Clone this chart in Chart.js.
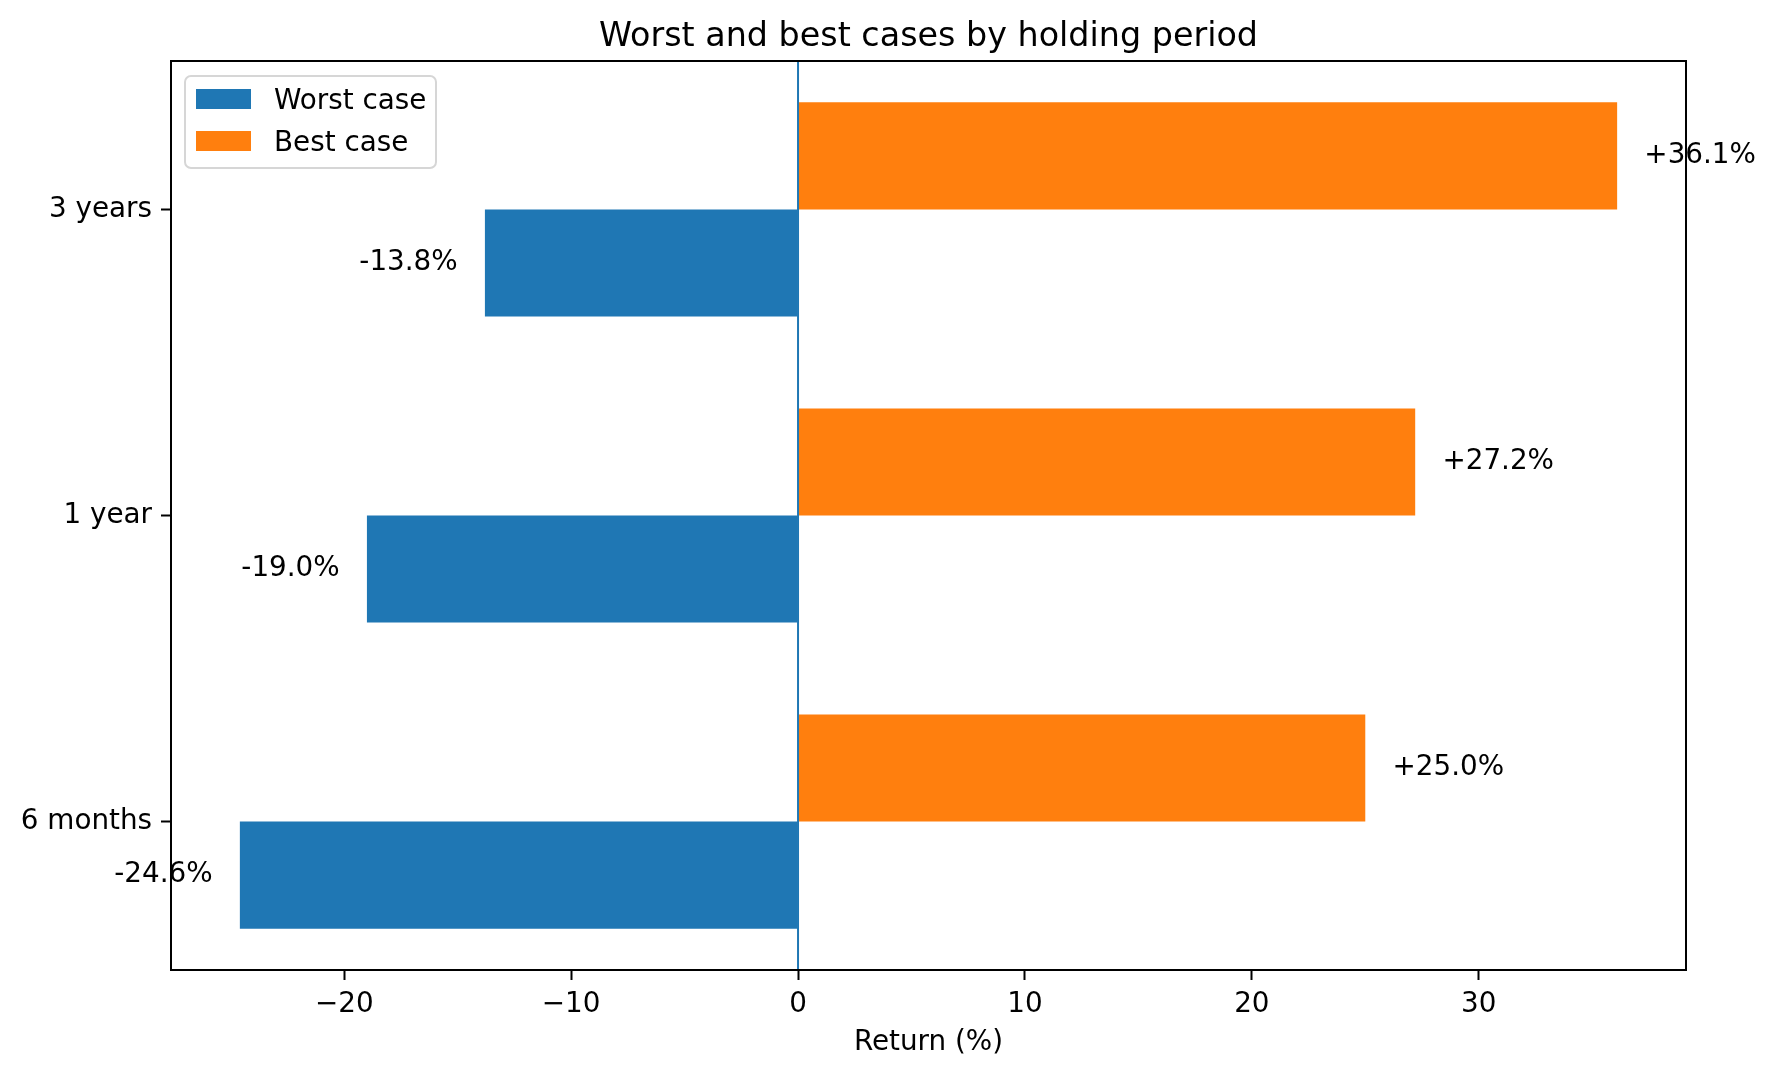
<!DOCTYPE html>
<html>
<head>
<meta charset="utf-8">
<script src="https://cdn.jsdelivr.net/npm/chart.js@4/dist/chart.umd.min.js"></script>
<style>
  html, body { margin: 0; padding: 0; background: #fff; }
  canvas { display: block; }
</style>
</head>
<body>
<canvas id="grafico" width="1777" height="1077"></canvas>
<script>
// dados (de baixo para cima no eixo y)
const periodos = ['6 months', '1 year', '3 years']
const pior = [-24.6, -19.0, -13.8]
const melhor = [25.0, 27.2, 36.1]
const legendas = ['Worst case', 'Best case']

const azul = '#1f77b4'
const laranja = '#ff7f0e'
const fonte = 'DejaVu Sans, Liberation Sans, sans-serif'
const tam = 27.8

// limites como o matplotlib (margem de 5%)
const lo = Math.min(...pior), hi = Math.max(...melhor)
const margem = 0.05 * (hi - lo)
const yMin = -0.35 - 0.05 * (periodos.length - 1 + 0.7)
const yMax = periodos.length - 1 + 0.35 + 0.05 * (periodos.length - 1 + 0.7)

function menos(v) {
    return v < 0 ? '\u2212' + Math.abs(v) : '' + v
}

const extras = {
    id: 'extras',
    afterDatasetsDraw(chart) {
        const ctx = chart.ctx
        const x = chart.scales.x
        const a = chart.chartArea
        // linha vertical no zero
        ctx.save()
        ctx.strokeStyle = azul
        ctx.lineWidth = 2
        ctx.beginPath()
        ctx.moveTo(x.getPixelForValue(0), a.top)
        ctx.lineTo(x.getPixelForValue(0), a.bottom)
        ctx.stroke()
        ctx.restore()
    },
    afterDraw(chart) {
        const ctx = chart.ctx
        const x = chart.scales.x
        const a = chart.chartArea
        ctx.save()
        // moldura
        ctx.strokeStyle = '#000'
        ctx.lineWidth = 2
        ctx.strokeRect(a.left, a.top, a.right - a.left, a.bottom - a.top)

        // rótulos das barras
        ctx.fillStyle = '#000'
        ctx.font = tam + 'px ' + fonte
        ctx.textBaseline = 'middle'
        chart.data.datasets.forEach((ds, d) => {
            const meta = chart.getDatasetMeta(d)
            ds.data.forEach((p, i) => {
                const y = meta.data[i].y
                if (p.x < 0) {
                    ctx.textAlign = 'right'
                    ctx.fillText(p.x.toFixed(1) + '%', x.getPixelForValue(p.x - 1.2), y)
                } else {
                    ctx.textAlign = 'left'
                    ctx.fillText('+' + p.x.toFixed(1) + '%', x.getPixelForValue(p.x + 1.2), y)
                }
            })
        })

        // título
        ctx.textAlign = 'center'
        ctx.textBaseline = 'alphabetic'
        ctx.font = (tam * 1.2) + 'px ' + fonte
        ctx.fillText('Worst and best cases by holding period', (a.left + a.right) / 2, 45.5)

        // legenda
        const lx = a.left + 14, ly = a.top + 15, lw = 251, lh = 92
        ctx.beginPath()
        ctx.roundRect(lx, ly, lw, lh, 6)
        ctx.fillStyle = 'rgba(255,255,255,0.8)'
        ctx.fill()
        ctx.strokeStyle = '#d6d6d6'
        ctx.lineWidth = 2
        ctx.stroke()
        const cores = [azul, laranja]
        ctx.font = tam + 'px ' + fonte
        ctx.textAlign = 'left'
        legendas.forEach((t, i) => {
            const cy = ly + 23 + i * 42
            ctx.fillStyle = cores[i]
            ctx.fillRect(lx + 11, cy - 10, 55, 20)
            ctx.fillStyle = '#000'
            ctx.fillText(t, lx + 89, cy + 10)
        })
        ctx.restore()
    }
}

const config = {
    type: 'bar',
    data: {
        datasets: [
            {
                label: legendas[1],
                data: melhor.map((v, i) => ({x: v, y: i})),
                backgroundColor: laranja,
                borderWidth: 0
            },
            {
                label: legendas[0],
                data: pior.map((v, i) => ({x: v, y: i})),
                backgroundColor: azul,
                borderWidth: 0
            }
        ]
    },
    options: {
        indexAxis: 'y',
        responsive: false,
        devicePixelRatio: 1,
        animation: false,
        categoryPercentage: 0.7,
        barPercentage: 1.0,
        layout: { padding: { left: 0, top: 61, right: 91, bottom: 0 } },
        plugins: {
            legend: { display: false },
            tooltip: { enabled: false },
            title: { display: false }
        },
        scales: {
            x: {
                type: 'linear',
                min: lo - margem,
                max: hi + margem,
                afterFit: s => { s.height = 107 },
                afterBuildTicks: s => {
                    const t = []
                    for (let v = Math.ceil(s.min / 10) * 10; v <= s.max; v += 10) t.push({value: v})
                    s.ticks = t
                },
                grid: { drawOnChartArea: false, drawTicks: true, offset: false, tickLength: 10, tickWidth: 2, tickColor: '#000' },
                border: { display: true, color: '#000', width: 2 },
                ticks: {
                    padding: 8,
                    color: '#000',
                    font: { family: fonte, size: tam },
                    callback: v => menos(v)
                },
                title: {
                    display: true,
                    text: 'Return (%)',
                    color: '#000',
                    font: { family: fonte, size: tam },
                    padding: { top: 0, bottom: 18 }
                }
            },
            y: {
                type: 'linear',
                offset: false,
                min: yMin,
                max: yMax,
                afterFit: s => { s.width = 171 },
                afterBuildTicks: s => { s.ticks = periodos.map((p, i) => ({value: i})) },
                grid: { drawOnChartArea: false, drawTicks: true, offset: false, tickLength: 10, tickWidth: 2, tickColor: '#000' },
                border: { display: true, color: '#000', width: 2 },
                ticks: {
                    padding: 9,
                    color: '#000',
                    font: { family: fonte, size: tam },
                    callback: v => periodos[v]
                }
            }
        }
    },
    plugins: [extras]
}

new Chart(document.getElementById('grafico'), config)
</script>
</body>
</html>
